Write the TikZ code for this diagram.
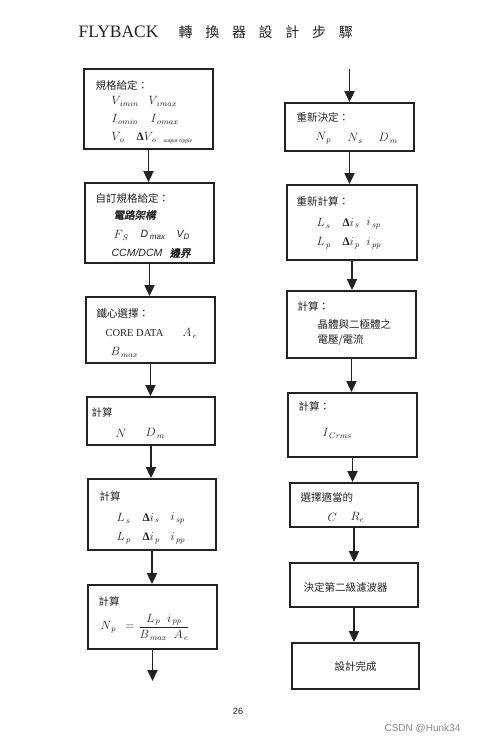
\documentclass[tikz,border=0pt]{standalone}
\usepackage{amsmath}
\usepackage[no-math]{fontspec}
\setmainfont{Liberation Serif}
\setsansfont{Liberation Sans}
\newfontfamily\cjk{Noto Sans CJK TC}
\newfontfamily\cjkbold{Noto Sans CJK TC}[FakeBold=2, FakeSlant=0.2]
\usetikzlibrary{arrows.meta, fit}
\definecolor{cink}{HTML}{222222}
\definecolor{cgrey}{HTML}{8A8A8A}
\newcommand{\dlt}{\textbf{Δ}}
\tikzset{
  every picture/.style={line width=1.2pt},
  stepbox/.style={draw=cink, line width=1.8pt, inner sep=0pt},
  flow/.style={-{Triangle[length=11pt, width=10pt]}, draw=cink, line width=1.8pt},
  head/.style={font=\cjk\fontsize{10.5}{12}\selectfont, text=cink, anchor=west, inner sep=0pt},
  term/.style={font=\fontsize{11.5}{13}\selectfont, text=cink, anchor=west, inner sep=0pt},
}

\begin{document}
\begin{tikzpicture}[x=1pt, y=-1pt]
  \useasboundingbox (0,0) rectangle (483,742);
  \fill[white] (0,0) rectangle (483,742);
  % title
  \node[anchor=west, inner sep=0pt, text=cink, font=\fontsize{17.5}{20}\selectfont] (ttl) at (78,32) {FLYBACK};
  \foreach \c [count=\i] in {轉,換,器,設,計,步,驟}
    \node[anchor=west, inner sep=0pt, text=cink, font=\cjk\fontsize{14}{16}\selectfont] (ttl-\i) at ({178+26.7*(\i-1)},32) {\c};

  % left column
  \node[stepbox, fit={(84,69) (213,149)}] (spec) {};
  \node[stepbox, fit={(85,183) (214,263)}] (custom) {};
  \node[stepbox, fit={(86,297) (215,363)}] (core) {};
  \node[stepbox, fit={(87,397) (215,445)}] (calcN) {};
  \node[stepbox, fit={(88,479) (216,550)}] (calcL) {};
  \node[stepbox, fit={(88,585) (217,649)}] (calcNp) {};
  \coordinate (leftend) at (152.5,681);

  % right column
  \coordinate (rightstart) at (349.5,69);
  \node[stepbox, fit={(285,103) (414,151)}] (redo) {};
  \node[stepbox, fit={(287,185) (417,260)}] (recalc) {};
  \node[stepbox, fit={(287,291) (416,358)}] (calcV) {};
  \node[stepbox, fit={(288,393) (417,457)}] (calcI) {};
  \node[stepbox, fit={(290,483) (418,527)}] (choose) {};
  \node[stepbox, fit={(290,563) (418,607)}] (filter) {};
  \node[stepbox, fit={(292,643) (419,689)}] (done) {};

  % arrows
  \draw[flow] (spec.south) -- (spec.south |- custom.north);
  \draw[flow] (custom.south) -- (custom.south |- core.north);
  \draw[flow] (core.south) -- (core.south |- calcN.north);
  \draw[flow] (calcN.south) -- (calcN.south |- calcL.north);
  \draw[flow] (calcL.south) -- (calcL.south |- calcNp.north);
  \draw[flow] (calcNp.south) -- (calcNp.south |- leftend);
  \draw[flow] (rightstart) -- (rightstart |- redo.north);
  \draw[flow] (redo.south) -- (redo.south |- recalc.north);
  \draw[flow] (recalc.south) -- (recalc.south |- calcV.north);
  \draw[flow] (calcV.south) -- (calcV.south |- calcI.north);
  \draw[flow] (calcI.south) -- (calcI.south |- choose.north);
  \draw[flow] (choose.south) -- (choose.south |- filter.north);
  \draw[flow] (filter.south) -- (filter.south |- done.north);

  % spec
  \node[head] (spec-h) at (95,85) {規格給定：};
  \node[term] (spec-1) at (111,101) {$V_{\,imin}$};
  \node[term] (spec-2) at (148,101) {$V_{\,imax}$};
  \node[term] (spec-3) at (111,119) {$I_{\,omin}$};
  \node[term] (spec-4) at (150,119) {$I_{\,omax}$};
  \node[term] (spec-5) at (111,137) {$V_{\,o}$};
  \node[term] (spec-6) at (136,137) {\dlt$V_{\,o}$};
  \node[term, font=\itshape\fontsize{5.5}{6}\selectfont] (spec-7) at (163,141) {output ripple};

  % custom
  \node[head] (custom-h) at (95,198) {自訂規格給定：};
  \node[head, font=\cjkbold\fontsize{10.5}{12}\selectfont] (custom-1) at (113,215) {電路架構};
  \node[term] (custom-2) at (113,235) {$F_{\,S}$};
  \node[term, font=\sffamily\itshape\fontsize{10.5}{12}\selectfont] (custom-3) at (140,235) {D\,\raisebox{-2pt}{\footnotesize max}};
  \node[term, font=\sffamily\itshape\fontsize{10.5}{12}\selectfont] (custom-4) at (176,235) {V\raisebox{-2pt}{\footnotesize D}};
  \node[term, font=\sffamily\itshape\fontsize{10.5}{12}\selectfont] (custom-5) at (111,253) {CCM/DCM};
  \node[head, font=\cjkbold\fontsize{10.5}{12}\selectfont] (custom-6) at (169,253) {邊界};

  % core
  \node[head] (core-h) at (96,313) {鐵心選擇：};
  \node[term, font=\fontsize{10.5}{12}\selectfont] (core-1) at (105,333) {CORE DATA};
  \node[term] (core-2) at (182,333) {$A_{\,e}$};
  \node[term] (core-3) at (110,352) {$B_{\,max}$};

  % calc N
  \node[head] (calcN-h) at (91,413) {計算};
  \node[term] (calcN-1) at (115,433) {$N$};
  \node[term] (calcN-2) at (145,433) {$D_{\,m}$};

  % calc L
  \node[head] (calcL-h) at (99,497) {計算};
  \node[term] (calcL-1) at (116,518) {$L_{\,s}$};
  \node[term] (calcL-2) at (142,518) {\dlt$i_{\,s}$};
  \node[term] (calcL-3) at (170,518) {$i_{\,sp}$};
  \node[term] (calcL-4) at (116,538) {$L_{\,p}$};
  \node[term] (calcL-5) at (142,538) {\dlt$i_{\,p}$};
  \node[term] (calcL-6) at (170,538) {$i_{\,pp}$};

  % calc Np
  \node[head] (calcNp-h) at (98,602) {計算};
  \node[term] (calcNp-1) at (100,627) {$N_{\,p}\ \ =$};
  \node[term, anchor=center] (calcNp-2) at (164,627) {$\dfrac{L_{\,p}\;\;i_{\,pp}}{B_{\,max}\;\;A_{\,e}}$};

  % redo
  \node[head] (redo-h) at (296,117) {重新決定：};
  \node[term] (redo-1) at (315,138) {$N_{\,p}$};
  \node[term] (redo-2) at (347,138) {$N_{\,s}$};
  \node[term] (redo-3) at (378,138) {$D_{\,m}$};

  % recalc
  \node[head] (recalc-h) at (296,202) {重新計算：};
  \node[term] (recalc-1) at (316,223) {$L_{\,s}$};
  \node[term] (recalc-2) at (342,223) {\dlt$i_{\,s}$};
  \node[term] (recalc-3) at (366,223) {$i_{\,sp}$};
  \node[term] (recalc-4) at (316,243) {$L_{\,p}$};
  \node[term] (recalc-5) at (342,243) {\dlt$i_{\,p}$};
  \node[term] (recalc-6) at (366,243) {$i_{\,pp}$};

  % calc V
  \node[head] (calcV-h) at (297,307) {計算：};
  \node[head] (calcV-1) at (317,324) {晶體與二極體之};
  \node[head] (calcV-2) at (317,340) {電壓/電流};

  % calc I
  \node[head] (calcI-h) at (298,407) {計算：};
  \node[term] (calcI-1) at (322,433) {$I_{\,Crms}$};

  % choose
  \node[head] (choose-h) at (300,497) {選擇適當的};
  \node[term] (choose-1) at (327,517) {$C$};
  \node[term] (choose-2) at (350,517) {$R_{c}$};

  \node[head] (filter-h) at (303,587) {決定第二級濾波器};
  \node[head, anchor=center] (done-h) at (done.center) {設計完成};

  % page
  \node[inner sep=0pt, text=cink, font=\sffamily\fontsize{9}{10}\selectfont] (page) at (238,711) {26};
  \node[anchor=west, inner sep=0pt, text=cgrey, font=\sffamily\fontsize{10}{11}\selectfont] (mark) at (384,729) {CSDN @Hunk34};
\end{tikzpicture}
\end{document}
